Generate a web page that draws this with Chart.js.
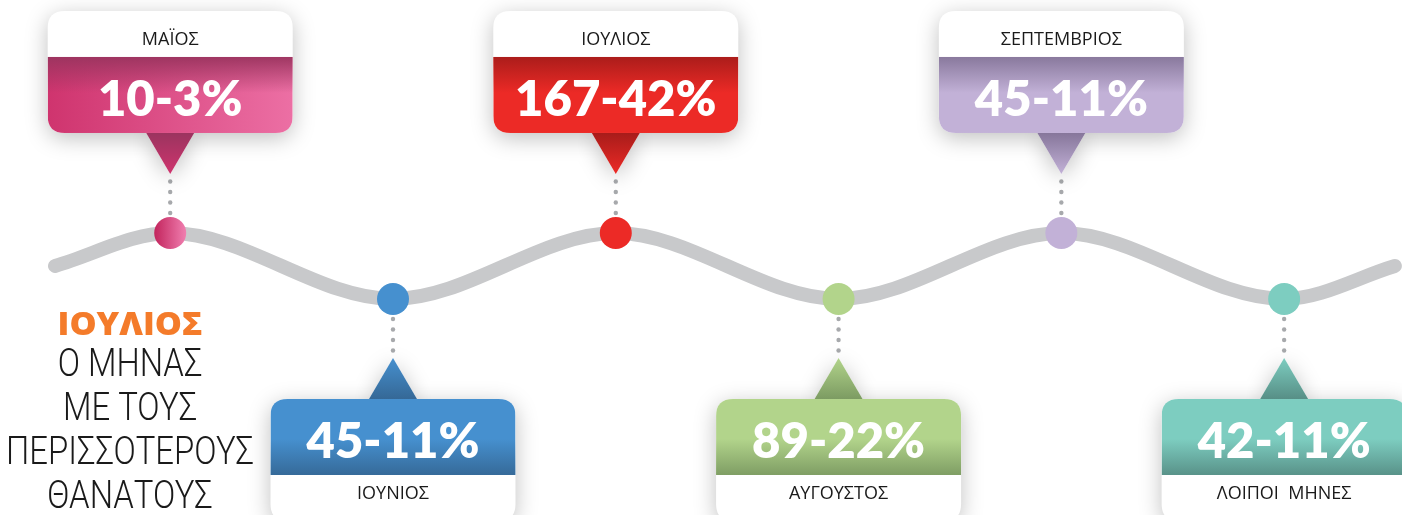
<!DOCTYPE html>
<html>
<head>
<meta charset="utf-8">
<script src="https://cdn.jsdelivr.net/npm/chart.js@4.4.1/dist/chart.umd.min.js"></script>
<style>
  html, body { margin: 0; padding: 0; background: #fff; overflow: hidden; }
  canvas { display: block; }
</style>
</head>
<body>
<canvas id="wave" width="1402" height="515"></canvas>
<script>
// data
const months = ['ΜΑΪΟΣ', 'ΙΟΥΝΙΟΣ', 'ΙΟΥΛΙΟΣ', 'ΑΥΓΟΥΣΤΟΣ', 'ΣΕΠΤΕΜΒΡΙΟΣ', 'ΛΟΙΠΟΙ  ΜΗΝΕΣ'];
const deaths = [10, 45, 167, 89, 45, 42];
const shares = [3, 11, 42, 22, 11, 11];
// 1 = crest (callout above), 0 = trough (callout below)
const waveLevel = [1, 0, 1, 0, 1, 0];
const waveStart = [-0.517, 0.5];
const waveEnd = [5.497, 0.5];
const headline = 'ΙΟΥΛΙΟΣ';
const caption = ['Ο ΜΗΝΑΣ', 'ΜΕ ΤΟΥΣ', 'ΠΕΡΙΣΣΟΤΕΡΟΥΣ', 'ΘΑΝΑΤΟΥΣ'];

// colours
const fills = ['#cf346e', '#4690cf', '#ec2a26', '#b2d48b', '#c2b1d7', '#7dcdc0'];
const fillsEnd = ['#ec6fa4', '#4690cf', '#ec2a26', '#b2d48b', '#c2b1d7', '#7dcdc0'];
const shades = ['155,52,95', '53,104,150', '168,28,26', '124,155,98', '134,118,154', '87,143,134'];

const wavePoints = [{ x: waveStart[0], y: waveStart[1] }]
  .concat(waveLevel.map((v, i) => ({ x: i, y: v })))
  .concat([{ x: waveEnd[0], y: waveEnd[1] }]);
const dotPoints = waveLevel.map((v, i) => ({ x: i, y: v }));

function roundRect(ctx, x, y, w, h, r) {
  ctx.beginPath();
  ctx.moveTo(x + r, y);
  ctx.lineTo(x + w - r, y);
  ctx.quadraticCurveTo(x + w, y, x + w, y + r);
  ctx.lineTo(x + w, y + h - r);
  ctx.quadraticCurveTo(x + w, y + h, x + w - r, y + h);
  ctx.lineTo(x + r, y + h);
  ctx.quadraticCurveTo(x, y + h, x, y + h - r);
  ctx.lineTo(x, y + r);
  ctx.quadraticCurveTo(x, y, x + r, y);
  ctx.closePath();
}

function capText(ctx, text, cx, cy, font, cap, color, squeeze) {
  ctx.save();
  ctx.font = font;
  ctx.fillStyle = color;
  ctx.textAlign = 'center';
  ctx.textBaseline = 'alphabetic';
  ctx.translate(cx, cy + cap / 2);
  if (squeeze) ctx.scale(squeeze, 1);
  ctx.fillText(text, 0, 0);
  ctx.restore();
}

const callouts = {
  id: 'callouts',
  afterDatasetsDraw(chart) {
    const { ctx, scales: { x, y } } = chart;
    months.forEach((m, i) => {
      const cx = x.getPixelForValue(i);
      const cy = y.getPixelForValue(waveLevel[i]);
      const s = waveLevel[i] ? -1 : 1;
      const tip = cy + s * 59;
      const base = cy + s * 100;
      const divider = cy + s * 176;
      const far = cy + s * 222;
      const bx = cx - 122.5, bw = 245;
      const by = Math.min(base, far), bh = Math.abs(far - base);

      // connector dots
      ctx.save();
      ctx.fillStyle = '#a7a9ac';
      for (let k = 0; k < 4; k++) {
        ctx.beginPath();
        ctx.arc(cx, cy + s * (20 + k * 10.5), 2.2, 0, Math.PI * 2);
        ctx.fill();
      }
      ctx.restore();

      // shadow pass
      ctx.save();
      ctx.shadowColor = 'rgba(0,0,0,0.25)';
      ctx.shadowBlur = 22;
      ctx.shadowOffsetY = 5;
      ctx.fillStyle = '#fff';
      roundRect(ctx, bx, by, bw, bh, 17);
      ctx.fill();
      ctx.beginPath();
      ctx.moveTo(cx - 24, base);
      ctx.lineTo(cx + 24, base);
      ctx.lineTo(cx, tip);
      ctx.closePath();
      ctx.fill();
      ctx.restore();

      // coloured band
      ctx.save();
      roundRect(ctx, bx, by, bw, bh, 17);
      ctx.clip();
      const top = Math.min(base, divider), h = Math.abs(divider - base);
      const hg = ctx.createLinearGradient(bx, 0, bx + bw, 0);
      hg.addColorStop(0, fills[i]);
      hg.addColorStop(1, fillsEnd[i]);
      ctx.fillStyle = hg;
      ctx.fillRect(bx, top, bw, h);
      const vg = ctx.createLinearGradient(0, divider, 0, divider - s * 36);
      vg.addColorStop(0, 'rgba(' + shades[i] + ',0.95)');
      vg.addColorStop(1, 'rgba(' + shades[i] + ',0)');
      ctx.fillStyle = vg;
      ctx.fillRect(bx, top, bw, h);
      ctx.restore();

      // pointer triangle
      ctx.save();
      const tg = ctx.createLinearGradient(0, base, 0, tip);
      tg.addColorStop(0, 'rgb(' + shades[i] + ')');
      tg.addColorStop(1, fills[i]);
      ctx.fillStyle = tg;
      ctx.beginPath();
      ctx.moveTo(cx - 24, base);
      ctx.lineTo(cx + 24, base);
      ctx.lineTo(cx, tip);
      ctx.closePath();
      ctx.fill();
      ctx.restore();

      // texts
      const valueCy = (base + divider) / 2 + 3;
      capText(ctx, deaths[i] + '-' + shares[i] + '%', cx, valueCy,
        '800 49px Lato, "Noto Sans", sans-serif', 36, '#ffffff');
      const labelCy = divider + s * 18;
      capText(ctx, m, cx, labelCy, '400 18px "Open Sans", "Noto Sans", sans-serif', 13, '#1a1a1a');
    });

    // side caption
    ctx.save();
    ctx.font = '800 32px "Open Sans", "Noto Sans", sans-serif';
    const hw = ctx.measureText(headline).width;
    ctx.restore();
    capText(ctx, headline, 130, 323.5, '800 32px "Open Sans", "Noto Sans", sans-serif', 23, '#f47b2a', 145 / hw);

    ctx.save();
    ctx.font = '300 38px Roboto, "Noto Sans", sans-serif';
    const lw = ctx.measureText(caption[2]).width;
    ctx.restore();
    caption.forEach((t, k) => {
      capText(ctx, t, 130, 362 + k * 44.3, '300 38px Roboto, "Noto Sans", sans-serif', 27, '#1a1a1a', 248 / lw);
    });
  }
};

new Chart(document.getElementById('wave'), {
  type: 'scatter',
  data: {
    datasets: [
      {
        data: dotPoints,
        order: 0,
        pointRadius: 16,
        pointHoverRadius: 16,
        pointBorderWidth: 0,
        pointBackgroundColor: (c) => {
          const sx = c.chart.scales.x;
          const px = sx ? sx.getPixelForValue(0) : NaN;
          if (c.dataIndex !== 0 || !isFinite(px)) return fills[c.dataIndex];
          const g = c.chart.ctx.createLinearGradient(px - 16, 0, px + 16, 0);
          g.addColorStop(0, '#c2245c');
          g.addColorStop(1, '#f07fb0');
          return g;
        }
      },
      {
        data: wavePoints,
        order: 1,
        showLine: true,
        borderColor: '#c8c9cb',
        borderWidth: 14,
        borderCapStyle: 'round',
        cubicInterpolationMode: 'monotone',
        pointRadius: 0,
        pointHoverRadius: 0
      }
    ]
  },
  options: {
    responsive: false,
    animation: false,
    events: [],
    layout: { padding: 0, autoPadding: false },
    plugins: {
      legend: { display: false },
      tooltip: { enabled: false }
    },
    scales: {
      x: { type: 'linear', display: false, min: -0.764, max: 5.529 },
      y: { type: 'linear', display: false, min: -3.273, max: 4.53 }
    }
  },
  plugins: [callouts]
});
</script>
</body>
</html>
